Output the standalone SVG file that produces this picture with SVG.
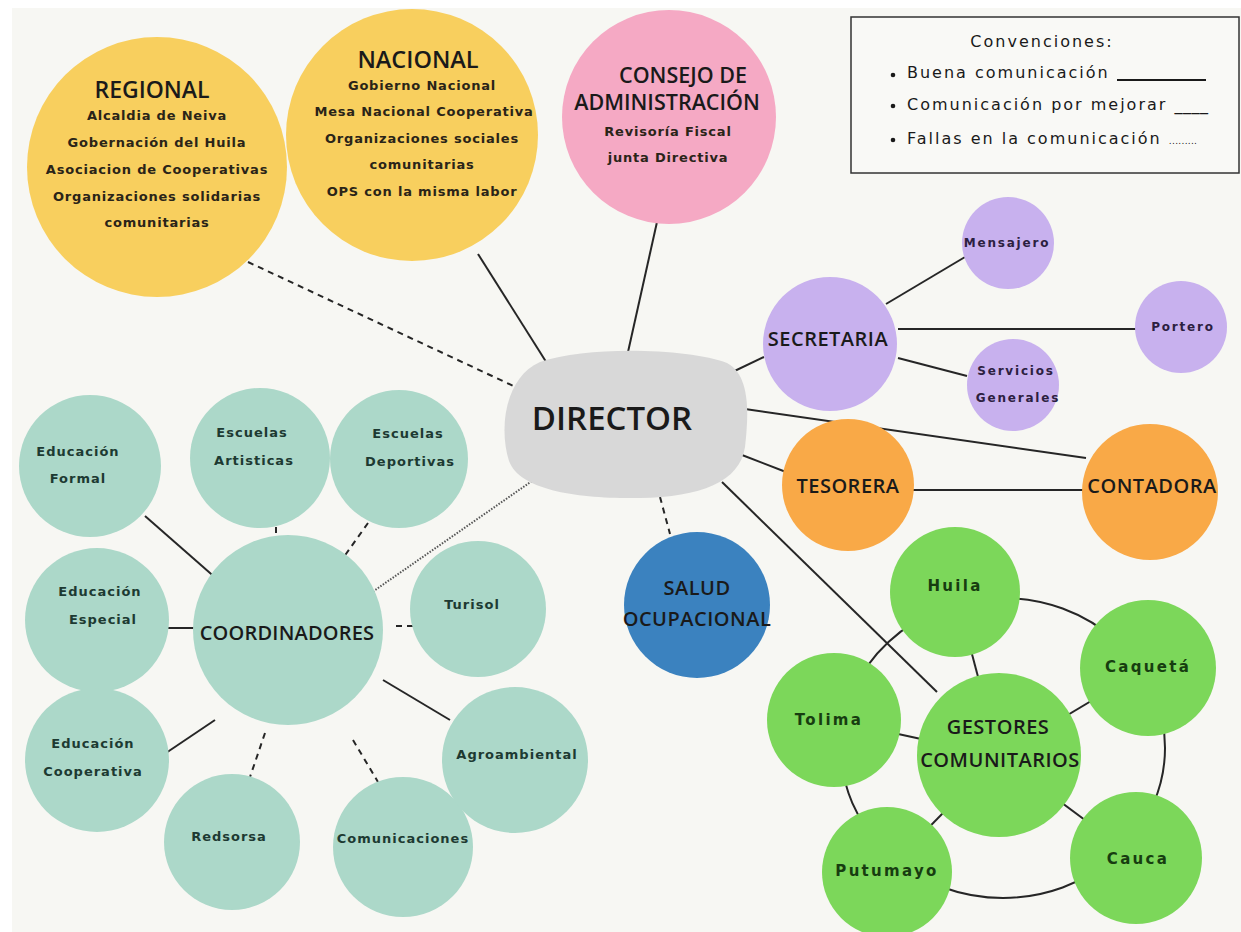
<svg xmlns="http://www.w3.org/2000/svg" width="1241" height="932" viewBox="0 0 1241 932">
<style>
.t{font-family:"Open Sans","Liberation Sans",sans-serif;font-weight:600;text-anchor:middle;fill:#1a1a1a}
.b{font-size:20px;letter-spacing:0.5px}
.s{font-family:"DejaVu Sans","Liberation Sans",sans-serif;font-weight:bold;text-anchor:middle;fill:#2a2418;font-size:13px;letter-spacing:0.8px}
.tl{font-family:"DejaVu Sans","Liberation Sans",sans-serif;font-weight:bold;text-anchor:middle;fill:#1d3a32;font-size:13px;letter-spacing:1px}
.pl{font-family:"DejaVu Sans","Liberation Sans",sans-serif;font-weight:bold;text-anchor:middle;fill:#2c2040;font-size:12px;letter-spacing:1.8px}
.gl{font-family:"DejaVu Sans","Liberation Sans",sans-serif;font-weight:bold;text-anchor:middle;fill:#173d10;font-size:15px;letter-spacing:2.3px}
.lg{font-family:"DejaVu Sans","Liberation Sans",sans-serif;fill:#1a1a1a;font-size:16px;letter-spacing:2px}
.solid{stroke:#262626;stroke-width:2;fill:none}
.dash{stroke:#262626;stroke-width:2;fill:none;stroke-dasharray:6 5}
.dot{stroke:#555;stroke-width:2;fill:none;stroke-dasharray:1.5 1.5}
.yel{fill:#f8cf5e}.pink{fill:#f5a9c4}.pur{fill:#c8b1ee}.ora{fill:#f9a947}.blu{fill:#3b82bf}.grn{fill:#7cd75a}.tea{fill:#acd8c9}
</style>
<rect width="1241" height="932" fill="#ffffff"/>
<rect x="12" y="8" width="1229" height="924" fill="#f7f7f3"/>

<g id="connectors">
<line class="dash" x1="248" y1="262" x2="522" y2="390"/>
<line class="solid" x1="478" y1="254" x2="550" y2="368"/>
<line class="solid" x1="657" y1="222" x2="628" y2="352"/>
<line class="solid" x1="722" y1="377" x2="764" y2="357"/>
<line class="solid" x1="886" y1="304" x2="965" y2="257"/>
<line class="solid" x1="898" y1="329" x2="1137" y2="329"/>
<line class="solid" x1="898" y1="358" x2="967" y2="376"/>
<line class="solid" x1="738" y1="408" x2="1086" y2="458"/>
<line class="solid" x1="742" y1="455" x2="786" y2="472"/>
<line class="solid" x1="910" y1="490" x2="1084" y2="490"/>
<line class="dash" x1="660" y1="497" x2="670" y2="534"/>
<line class="solid" x1="722" y1="482" x2="937" y2="692"/>
<ellipse class="solid" cx="1003" cy="748" rx="162" ry="150"/>
<line class="solid" x1="955" y1="590" x2="999" y2="756"/>
<line class="solid" x1="1148" y1="667" x2="999" y2="756"/>
<line class="solid" x1="834" y1="720" x2="999" y2="756"/>
<line class="solid" x1="887" y1="870" x2="999" y2="756"/>
<line class="solid" x1="1136" y1="858" x2="999" y2="756"/>
<line class="dot" x1="368" y1="595" x2="532" y2="481"/>
<line class="solid" x1="145" y1="516" x2="218" y2="580"/>
<line class="solid" x1="168" y1="628" x2="196" y2="628"/>
<line class="dash" x1="276" y1="527" x2="276" y2="548"/>
<line class="dash" x1="368" y1="523" x2="336" y2="568"/>
<line class="dash" x1="396" y1="626" x2="418" y2="626"/>
<line class="solid" x1="383" y1="680" x2="450" y2="720"/>
<line class="dash" x1="353" y1="740" x2="378" y2="782"/>
<line class="dash" x1="265" y1="733" x2="250" y2="777"/>
<line class="solid" x1="215" y1="720" x2="160" y2="757"/>
</g>

<g id="regional">
<circle class="yel" cx="157" cy="167" r="130"/>
<text class="t" x="152" y="98" font-size="23">REGIONAL</text>
<text class="s" x="157" y="120">Alcaldia de Neiva</text>
<text class="s" x="157" y="147">Gobernación del Huila</text>
<text class="s" x="157" y="174">Asociacion de Cooperativas</text>
<text class="s" x="157" y="201">Organizaciones solidarias</text>
<text class="s" x="157" y="227">comunitarias</text>
</g>

<g id="nacional">
<circle class="yel" cx="412" cy="135" r="126"/>
<text class="t" x="418" y="68" font-size="23.5">NACIONAL</text>
<text class="s" x="422" y="90">Gobierno Nacional</text>
<text class="s" x="424" y="116">Mesa Nacional Cooperativa</text>
<text class="s" x="422" y="143">Organizaciones sociales</text>
<text class="s" x="422" y="169">comunitarias</text>
<text class="s" x="422" y="196">OPS con la misma labor</text>
</g>

<g id="consejo">
<circle class="pink" cx="669" cy="117" r="107"/>
<text class="t" x="683" y="83" font-size="21.5">CONSEJO DE</text>
<text class="t" x="667" y="110" font-size="21.5">ADMINISTRACIÓN</text>
<text class="s" x="668" y="136">Revisoría Fiscal</text>
<text class="s" x="668" y="162">junta Directiva</text>
</g>

<g id="legend">
<rect x="851" y="17" width="388" height="156" fill="#f9f9f6" stroke="#333" stroke-width="1.5"/>
<text class="lg" x="1042" y="47" text-anchor="middle">Convenciones:</text>
<circle cx="893" cy="75" r="2.3" fill="#1a1a1a"/>
<text class="lg" x="907" y="78">Buena comunicación</text>
<line x1="1117" y1="80" x2="1206" y2="80" stroke="#1a1a1a" stroke-width="2"/>
<circle cx="893" cy="106" r="2.3" fill="#1a1a1a"/>
<text class="lg" x="907" y="110">Comunicación por mejorar <tspan letter-spacing="0.5">____</tspan></text>
<circle cx="893" cy="140" r="2.3" fill="#1a1a1a"/>
<text class="lg" x="907" y="144">Fallas en la comunicación <tspan font-size="9" letter-spacing="0.3">.........</tspan></text>
</g>

<g id="director">
<path d="M540 362 C590 345 690 349 727 363 C752 376 748 420 745 447 C740 482 700 497 640 498 C580 499 520 491 509 461 C499 430 504 378 540 362 Z" fill="#d8d8d8"/>
<text class="t" x="612" y="430" font-size="33">DIRECTOR</text>
</g>

<g id="secretaria">
<circle class="pur" cx="830" cy="344" r="67"/>
<text class="t b" x="828" y="346">SECRETARIA</text>
</g>
<g id="mensajero">
<circle class="pur" cx="1008" cy="243" r="46"/>
<text class="pl" x="1007" y="247">Mensajero</text>
</g>
<g id="portero">
<circle class="pur" cx="1181" cy="327" r="46"/>
<text class="pl" x="1183" y="331">Portero</text>
</g>
<g id="servicios">
<circle class="pur" cx="1013" cy="385" r="46"/>
<text class="pl" x="1016" y="375">Servicios</text>
<text class="pl" x="1018" y="402">Generales</text>
</g>

<g id="tesorera">
<circle class="ora" cx="848" cy="485" r="66"/>
<text class="t b" x="848" y="493">TESORERA</text>
</g>
<g id="contadora">
<circle class="ora" cx="1150" cy="492" r="68"/>
<text class="t b" x="1152" y="493">CONTADORA</text>
</g>

<g id="salud">
<circle class="blu" cx="697" cy="605" r="73"/>
<text class="t b" x="697" y="595">SALUD</text>
<text class="t b" x="697" y="626">OCUPACIONAL</text>
</g>

<g id="huila">
<circle class="grn" cx="955" cy="592" r="65"/>
<text class="gl" x="955" y="591">Huila</text>
</g>
<g id="caqueta">
<circle class="grn" cx="1148" cy="668" r="68"/>
<text class="gl" x="1148" y="672">Caquetá</text>
</g>
<g id="tolima">
<circle class="grn" cx="834" cy="720" r="67"/>
<text class="gl" x="829" y="725">Tolima</text>
</g>
<g id="putumayo">
<circle class="grn" cx="887" cy="872" r="65"/>
<text class="gl" x="887" y="876">Putumayo</text>
</g>
<g id="cauca">
<circle class="grn" cx="1136" cy="858" r="66"/>
<text class="gl" x="1138" y="864">Cauca</text>
</g>
<g id="gestores">
<circle class="grn" cx="999" cy="755" r="82"/>
<text class="t b" x="998" y="734">GESTORES</text>
<text class="t b" x="1000" y="767">COMUNITARIOS</text>
</g>

<g id="coordinadores">
<circle class="tea" cx="288" cy="630" r="95"/>
<text class="t" x="287" y="640" font-size="20" letter-spacing="0.2">COORDINADORES</text>
</g>
<g id="ed-formal">
<circle class="tea" cx="90" cy="466" r="71"/>
<text class="tl" x="78" y="456">Educación</text>
<text class="tl" x="78" y="483">Formal</text>
</g>
<g id="esc-artisticas">
<circle class="tea" cx="260" cy="458" r="70"/>
<text class="tl" x="252" y="437">Escuelas</text>
<text class="tl" x="254" y="465">Artisticas</text>
</g>
<g id="esc-deportivas">
<circle class="tea" cx="399" cy="459" r="69"/>
<text class="tl" x="408" y="438">Escuelas</text>
<text class="tl" x="410" y="466">Deportivas</text>
</g>
<g id="ed-especial">
<circle class="tea" cx="97" cy="620" r="72"/>
<text class="tl" x="100" y="596">Educación</text>
<text class="tl" x="103" y="624">Especial</text>
</g>
<g id="turisol">
<circle class="tea" cx="478" cy="609" r="68"/>
<text class="tl" x="472" y="609">Turisol</text>
</g>
<g id="ed-cooperativa">
<circle class="tea" cx="97" cy="760" r="72"/>
<text class="tl" x="93" y="748">Educación</text>
<text class="tl" x="93" y="776">Cooperativa</text>
</g>
<g id="redsorsa">
<circle class="tea" cx="232" cy="842" r="68"/>
<text class="tl" x="229" y="841">Redsorsa</text>
</g>
<g id="comunicaciones">
<circle class="tea" cx="403" cy="847" r="70"/>
<text class="tl" x="403" y="843">Comunicaciones</text>
</g>
<g id="agroambiental">
<circle class="tea" cx="515" cy="760" r="73"/>
<text class="tl" x="517" y="759">Agroambiental</text>
</g>
</svg>
